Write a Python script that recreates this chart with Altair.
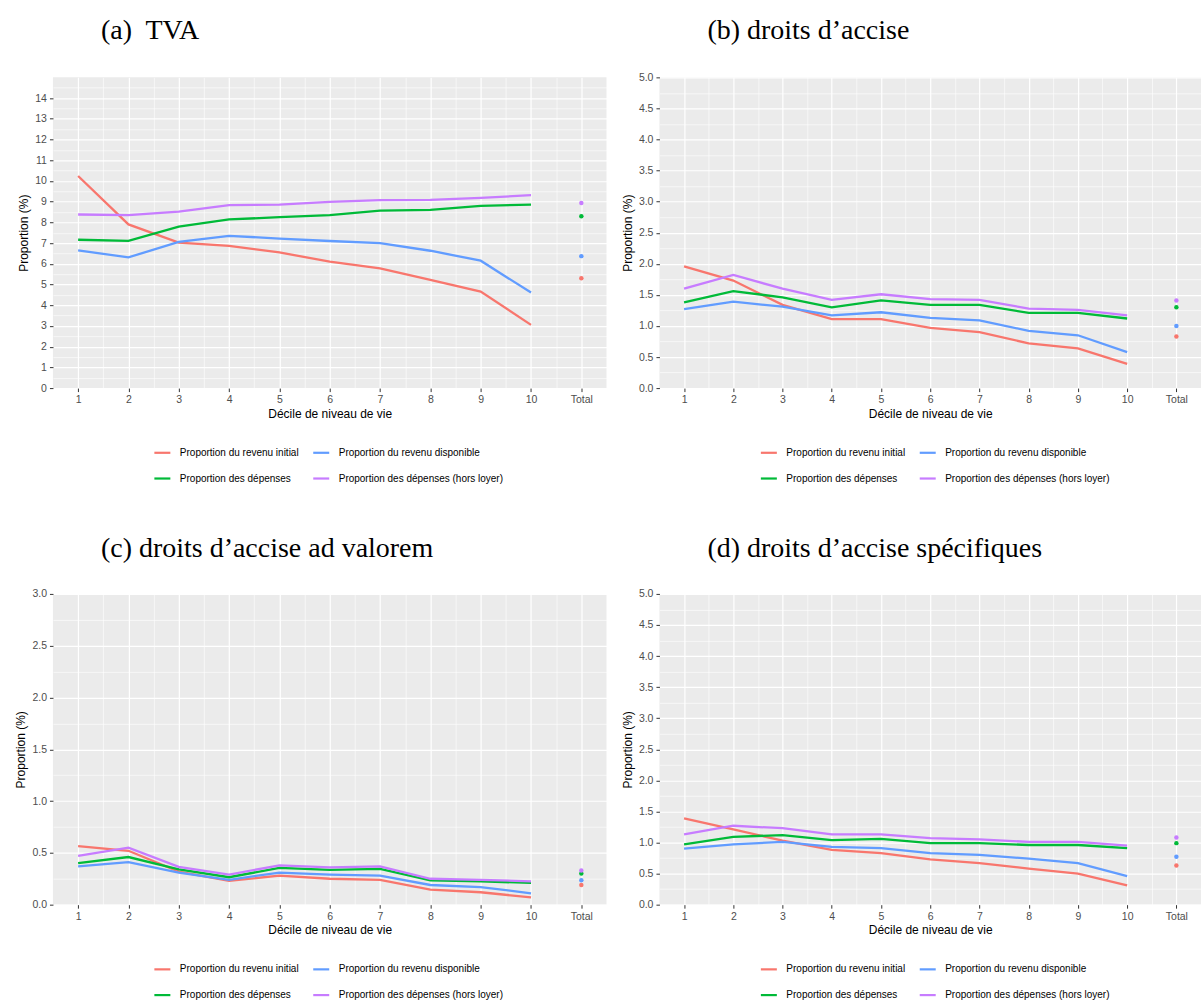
import altair as alt
import pandas as pd

# ---------------- data ----------------
x_labels = ["1", "2", "3", "4", "5", "6", "7", "8", "9", "10", "Total"]
series_names = [
    "Proportion du revenu initial",
    "Proportion du revenu disponible",
    "Proportion des dépenses",
    "Proportion des dépenses (hors loyer)",
]
series_colors = ["#F8766D", "#619CFF", "#00BA38", "#C77CFF"]

# (a) TVA
tva_init = [10.24, 7.90, 7.02, 6.87, 6.55, 6.10, 5.78, 5.22, 4.66, 3.05]
tva_disp = [6.65, 6.31, 7.06, 7.35, 7.22, 7.10, 7.00, 6.63, 6.15, 4.61]
tva_dep = [7.16, 7.11, 7.79, 8.14, 8.25, 8.35, 8.57, 8.60, 8.80, 8.86]
tva_hl = [8.38, 8.35, 8.52, 8.83, 8.86, 8.99, 9.07, 9.09, 9.18, 9.31]
tva_total = [5.30, 6.37, 8.30, 8.94]

# (b) droits d'accise
acc_init = [1.96, 1.73, 1.34, 1.11, 1.11, 0.97, 0.90, 0.72, 0.64, 0.39]
acc_disp = [1.27, 1.39, 1.31, 1.17, 1.22, 1.13, 1.09, 0.92, 0.85, 0.58]
acc_dep = [1.38, 1.56, 1.46, 1.30, 1.41, 1.34, 1.34, 1.21, 1.21, 1.12]
acc_hl = [1.60, 1.82, 1.60, 1.42, 1.51, 1.43, 1.42, 1.28, 1.26, 1.17]
acc_total = [0.83, 1.00, 1.30, 1.41]

# (c) droits d'accise ad valorem
adv_init = [0.565, 0.52, 0.32, 0.23, 0.28, 0.25, 0.24, 0.145, 0.12, 0.07]
adv_disp = [0.37, 0.41, 0.31, 0.24, 0.31, 0.29, 0.28, 0.19, 0.17, 0.11]
adv_dep = [0.40, 0.46, 0.34, 0.265, 0.355, 0.335, 0.345, 0.235, 0.225, 0.21]
adv_hl = [0.47, 0.55, 0.365, 0.29, 0.38, 0.36, 0.37, 0.25, 0.24, 0.225]
adv_total = [0.19, 0.235, 0.30, 0.33]

# (d) droits d'accise spécifiques
spe_init = [1.39, 1.21, 1.03, 0.88, 0.83, 0.73, 0.67, 0.58, 0.50, 0.31]
spe_disp = [0.90, 0.97, 1.01, 0.93, 0.91, 0.83, 0.80, 0.74, 0.67, 0.46]
spe_dep = [0.97, 1.09, 1.12, 1.04, 1.06, 0.99, 0.99, 0.96, 0.96, 0.91]
spe_hl = [1.13, 1.27, 1.23, 1.13, 1.13, 1.07, 1.05, 1.01, 1.01, 0.95]
spe_total = [0.63, 0.77, 0.99, 1.08]

panels = [
    dict(title="(a)\u00a0 TVA", series=[tva_init, tva_disp, tva_dep, tva_hl], totals=tva_total,
         ymax=15.0, major=1.0, fmt="d", width=554, toff=10),
    dict(title="(b) droits d\u2019accise", series=[acc_init, acc_disp, acc_dep, acc_hl], totals=acc_total,
         ymax=5.0, major=0.5, fmt=".1f", width=542, toff=5),
    dict(title="(c) droits d\u2019accise ad valorem", series=[adv_init, adv_disp, adv_dep, adv_hl], totals=adv_total,
         ymax=3.0, major=0.5, fmt=".1f", width=554, toff=4),
    dict(title="(d) droits d\u2019accise spécifiques", series=[spe_init, spe_disp, spe_dep, spe_hl], totals=spe_total,
         ymax=5.0, major=0.5, fmt=".1f", width=542, toff=4),
]

SANS = "Liberation Sans"
SERIF = "Liberation Serif"
PANEL_H = 311


def make_panel(p):
    line_rows, pt_rows = [], []
    for name, vals, tot in zip(series_names, p["series"], p["totals"]):
        for i, v in enumerate(vals):
            line_rows.append({"x": i + 1, "serie": name, "val": v})
        pt_rows.append({"x": len(x_labels), "serie": name, "val": tot})
    df_line = pd.DataFrame(line_rows)
    df_pt = pd.DataFrame(pt_rows)

    n = len(x_labels)
    x_vals = [k * 0.5 for k in range(2, 2 * n + 1)]
    x_minor = "datum.value % 1 != 0"
    lbl_map = "[" + ",".join("'" + s + "'" for s in x_labels) + "]"
    x_axis = alt.Axis(
        values=x_vals,
        labelExpr="datum.value % 1 == 0 ? " + lbl_map + "[datum.value - 1] : ''",
        gridColor="white",
        gridWidth={"condition": {"test": x_minor, "value": 0.6}, "value": 1.2},
        tickOpacity={"condition": {"test": x_minor, "value": 0}, "value": 1},
        tickColor="#333333", tickSize=3.5, tickWidth=1,
        domain=False, labelFlush=False, labelOverlap=False,
        labelFont=SANS, labelFontSize=10.5, labelColor="#4D4D4D", labelPadding=3,
        title="Décile de niveau de vie", titleFont=SANS, titleFontSize=12,
        titleFontWeight="normal", titleColor="black", titlePadding=3,
    )

    half = p["major"] / 2
    ny = int(round(p["ymax"] / half))
    y_vals = [k * half for k in range(0, ny + 1)]
    if p["major"] == 1.0:
        y_vals = [v for v in y_vals if v < p["ymax"]]
    y_minor = "(datum.value / " + str(half) + ") % 2 != 0"
    y_axis = alt.Axis(
        values=y_vals,
        labelExpr="(datum.value / " + str(half) + ") % 2 == 0 ? format(datum.value, '" + p["fmt"] + "') : ''",
        gridColor="white",
        gridWidth={"condition": {"test": y_minor, "value": 0.6}, "value": 1.2},
        tickOpacity={"condition": {"test": y_minor, "value": 0}, "value": 1},
        tickColor="#333333", tickSize=3.5, tickWidth=1,
        domain=False, labelFlush=False, labelOverlap=False,
        labelFont=SANS, labelFontSize=10.5, labelColor="#4D4D4D", labelPadding=3,
        title="Proportion (%)", titleFont=SANS, titleFontSize=12,
        titleFontWeight="normal", titleColor="black", titlePadding=4,
    )

    x_enc = alt.X("x:Q", scale=alt.Scale(domain=[0.5, n + 0.5], nice=False, zero=False), axis=x_axis)
    y_enc = alt.Y("val:Q", scale=alt.Scale(domain=[0, p["ymax"]], nice=False, zero=True), axis=y_axis)

    legend = alt.Legend(
        title=None, orient="none", legendX=100, legendY=366, columns=2, direction="horizontal",
        symbolType="stroke", symbolSize=256, symbolStrokeWidth=2.2,
        labelFont=SANS, labelFontSize=10, labelColor="black", labelOffset=8,
        columnPadding=10, rowPadding=11, labelLimit=300,
    )

    lines = alt.Chart(df_line).mark_line(strokeWidth=2.3).encode(
        x=x_enc, y=y_enc,
        color=alt.Color("serie:N", scale=alt.Scale(domain=series_names, range=series_colors), legend=legend),
    )
    points = alt.Chart(df_pt).mark_circle(size=20, opacity=1).encode(
        x=x_enc, y=y_enc,
        color=alt.Color("serie:N", scale=alt.Scale(domain=series_names, range=series_colors), legend=None),
    )
    return alt.layer(lines, points).properties(
        width=p["width"], height=PANEL_H,
        title=alt.TitleParams(
            p["title"], font=SERIF, fontSize=28, fontWeight="normal", color="black",
            anchor="start", frame="group", dx=48, offset=p["toff"], baseline="alphabetic",
        ),
    )


charts = [make_panel(p) for p in panels]
chart = alt.concat(
    *charts, columns=2, spacing={"row": 206, "column": 53}, bounds="flush", align="each"
).resolve_scale(
    color="independent"
).resolve_legend(color="independent").configure_view(
    fill="#EBEBEB", stroke=None
).properties(
    background="white", padding={"left": 14, "top": 17, "right": 0, "bottom": 0}
)

chart.save("out.html", embed_options={"renderer": "svg", "actions": False})
